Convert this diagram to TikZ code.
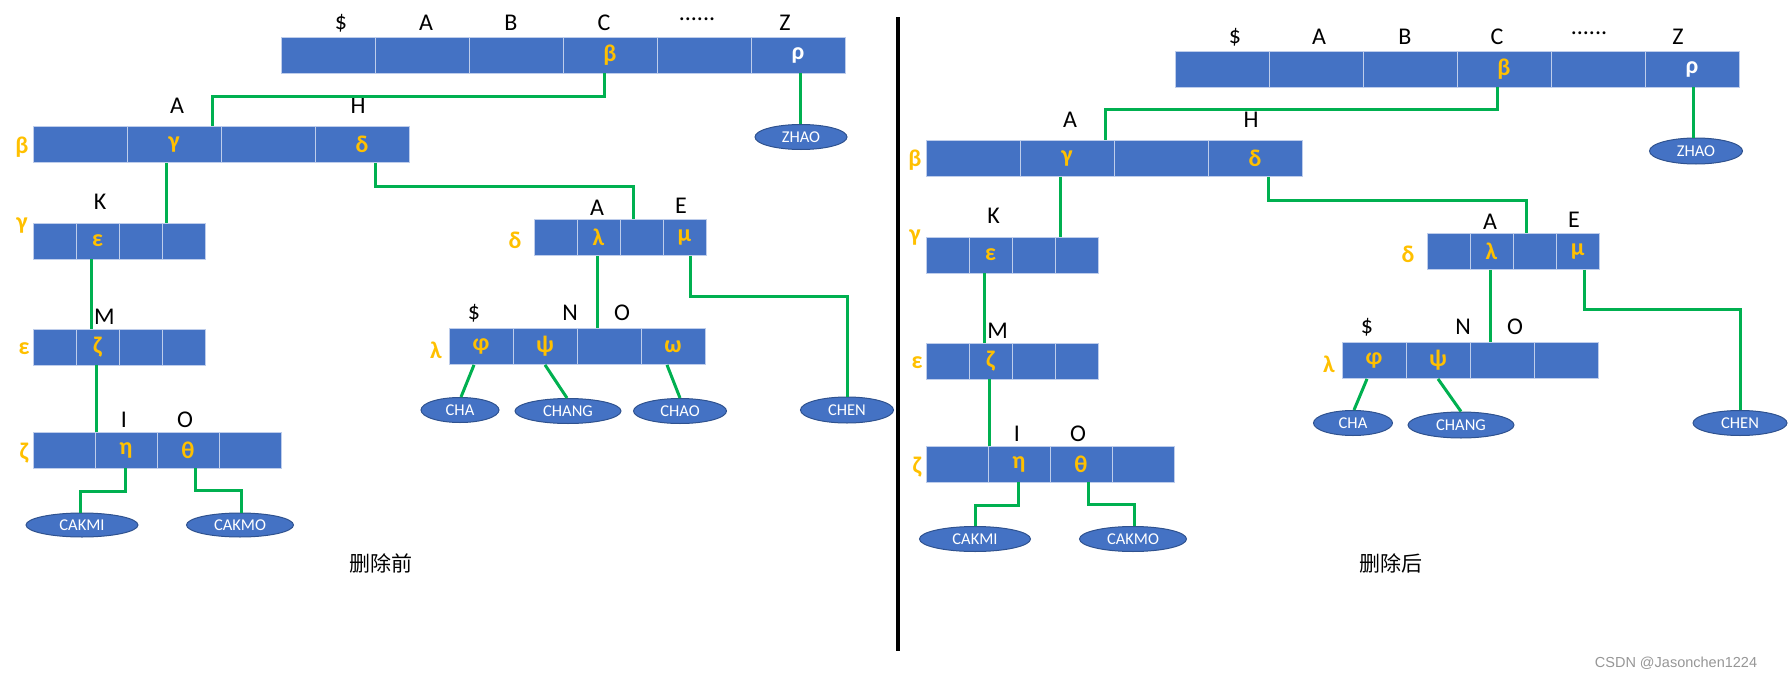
\documentclass[tikz,border=0pt]{standalone}
\usepackage{fontspec}
\setmainfont{Carlito}
\newfontfamily\cjk{Noto Sans CJK SC}
\newfontfamily\wmfont{Liberation Sans}
\usetikzlibrary{shapes.geometric}

\definecolor{barblue}{RGB}{68,114,196}
\definecolor{barline}{RGB}{190,205,235}
\definecolor{greekgold}{RGB}{255,192,0}
\definecolor{linkgreen}{RGB}{0,176,80}
\definecolor{ovalline}{RGB}{47,82,143}
\definecolor{markgray}{RGB}{150,150,150}

\tikzset{every picture/.style={line width=0.75pt}}
\tikzset{
	cellbox/.style={draw=barline, fill=barblue, line width=0.8pt, minimum height=36pt, inner sep=0pt,
		text=greekgold, font=\bfseries\fontsize{24}{28}\selectfont},
	cellwide/.style={cellbox, minimum width=94pt},
	cellmid/.style={cellbox, minimum width=62pt},
	cellnarrow/.style={cellbox, minimum width=43pt},
	keylbl/.style={font=\fontsize{24}{28}\selectfont},
	rowlbl/.style={text=greekgold, font=\bfseries\fontsize{24}{28}\selectfont},
	leaf/.style={ellipse, draw=ovalline, fill=barblue, line width=1pt, inner sep=0pt,
		minimum height=25pt, text=white, font=\fontsize{16.5}{19}\selectfont},
	link/.style={draw=linkgreen, line width=3pt}}

\begin{document}
\begin{tikzpicture}[x=1pt,y=1pt,yscale=-1,xscale=1]
	%set diagram left start at 0, width 1792 and height 680
	\useasboundingbox (0,0) rectangle (1792,680);

	%%%%%%%%%%%%%%%% before deletion %%%%%%%%%%%%%%%%
	%Shape: Rectangle (root)
	\node[cellwide] (Lt1) at (328,55) {};
	\node[cellwide] (Lt2) at (422,55) {};
	\node[cellwide] (Lt3) at (516,55) {};
	\node[cellwide] (Lt4) at (610,55) {β};
	\node[cellwide] (Lt5) at (704,55) {};
	\node[cellwide, text=white] (Lt6) at (798,55) {ρ};
	% Text Node
	\node[keylbl] (Lk1) at (341,23) {\$};
	\node[keylbl] (Lk2) at (426,23) {A};
	\node[keylbl] (Lk3) at (511,23) {B};
	\node[keylbl] (Lk4) at (604,23) {C};
	\node[keylbl] (Lk5) at (697,19) {......};
	\node[keylbl] (Lk6) at (785,23) {Z};

	%Shape: Rectangle (beta)
	\node[cellwide] (Lb1) at (80,144.5) {};
	\node[cellwide] (Lb2) at (174,144.5) {γ};
	\node[cellwide] (Lb3) at (268,144.5) {};
	\node[cellwide] (Lb4) at (362,144.5) {δ};
	\node[rowlbl] (Lbr) at (22,147) {β};
	\node[keylbl] (Lbk1) at (177,106) {A};
	\node[keylbl] (Lbk2) at (358,106) {H};

	%Shape: Rectangle (gamma)
	\node[cellnarrow] (Lg1) at (54.5,241) {};
	\node[cellnarrow] (Lg2) at (97.5,241) {ε};
	\node[cellnarrow] (Lg3) at (140.5,241) {};
	\node[cellnarrow] (Lg4) at (183.5,241) {};
	\node[rowlbl] (Lgr) at (22,226) {γ};
	\node[keylbl] (Lgk) at (100,202) {K};

	%Shape: Rectangle (epsilon)
	\node[cellnarrow] (Le1) at (54.5,347) {};
	\node[cellnarrow] (Le2) at (97.5,347) {ζ};
	\node[cellnarrow] (Le3) at (140.5,347) {};
	\node[cellnarrow] (Le4) at (183.5,347) {};
	\node[rowlbl] (Ler) at (24,349) {ε};
	\node[keylbl] (Lek) at (104.5,317) {M};

	%Shape: Rectangle (zeta)
	\node[cellmid] (Lz1) at (64,450) {};
	\node[cellmid] (Lz2) at (126,450) {η};
	\node[cellmid] (Lz3) at (188,450) {θ};
	\node[cellmid] (Lz4) at (250,450) {};
	\node[rowlbl] (Lzr) at (24,453) {ζ};
	\node[keylbl] (Lzk1) at (124,420) {I};
	\node[keylbl] (Lzk2) at (185,420) {O};

	%Shape: Rectangle (delta)
	\node[cellnarrow] (Ld1) at (555.5,237.5) {};
	\node[cellnarrow] (Ld2) at (598.5,237.5) {λ};
	\node[cellnarrow] (Ld3) at (641.5,237.5) {};
	\node[cellnarrow] (Ld4) at (684.5,237.5) {μ};
	\node[rowlbl] (Ldr) at (515,240) {δ};
	\node[keylbl] (Ldk1) at (597,208) {A};
	\node[keylbl] (Ldk2) at (681,206) {E};

	%Shape: Rectangle (lambda)
	\node[cellmid, minimum width=64pt] (Ll1) at (481,346.5) {φ};
	\node[cellmid, minimum width=64pt] (Ll2) at (545,346.5) {ψ};
	\node[cellmid, minimum width=64pt] (Ll3) at (609,346.5) {};
	\node[cellmid, minimum width=64pt] (Ll4) at (673,346.5) {ω};
	\node[rowlbl] (Llr) at (436,350) {λ};
	\node[keylbl] (Llk1) at (474,313) {\$};
	\node[keylbl] (Llk2) at (570,313) {N};
	\node[keylbl] (Llk3) at (622,313) {O};

	%Shape: Ellipse
	\node[leaf, minimum width=92pt] (LZHAO) at (801,137) {ZHAO};
	\node[leaf, minimum width=112pt, minimum height=24pt] (LCAKMI) at (82,525) {CAKMI};
	\node[leaf, minimum width=107pt, minimum height=24pt] (LCAKMO) at (240,525) {CAKMO};
	\node[leaf, minimum width=78pt] (LCHA) at (460,410) {CHA};
	\node[leaf, minimum width=106pt] (LCHANG) at (568,411) {CHANG};
	\node[leaf, minimum width=93pt] (LCHAO) at (680,411) {CHAO};
	\node[leaf, minimum width=93pt, minimum height=26pt] (LCHEN) at (847,410) {CHEN};

	%Straight Lines
	\draw[link] ([xshift=-6pt]Lt4.south) -- ++(0,23) -| ([xshift=38pt]Lb2.north);
	\draw[link] ([xshift=2pt]Lt6.south) -- ([xshift=-1pt]LZHAO.north);
	\draw[link] ([xshift=-7.5pt]Lb2.south) -- ([xshift=-17pt]Lg4.north);
	\draw[link] ([xshift=13pt]Lb4.south) -- ++(0,24) -| ([xshift=-8.5pt]Ld3.north);
	\draw[link] ([xshift=-6.5pt]Lg2.south) -- ([xshift=-6.5pt]Le2.north);
	\draw[link] ([xshift=-1pt]Le2.south) -- ([xshift=-29.5pt]Lz2.north);
	\draw[link] ([xshift=-1pt]Lz2.south) -- ++(0,23) -| ([xshift=-2pt]LCAKMI.north);
	\draw[link] ([xshift=7pt]Lz3.south) -- ++(0,22) -| ([xshift=1pt]LCAKMO.north);
	\draw[link] ([xshift=-1.5pt]Ld2.south) -- ([xshift=-12pt]Ll3.north);
	\draw[link] ([xshift=5.5pt]Ld4.south) -- ++(0,41) -| (LCHEN.north);
	\draw[link] ([xshift=-7pt]Ll1.south) -- ([xshift=1pt]LCHA.north);
	\draw[link] (Ll2.south) -- ([xshift=-1pt]LCHANG.north);
	\draw[link] ([xshift=-6pt]Ll4.south) -- (LCHAO.north);

	% Text Node
	\node[font=\cjk\fontsize{21}{25}\selectfont] (Lcap) at (381,563) {删除前};

	%Straight Lines (divider)
	\coordinate (sepTop) at (898,17);
	\coordinate (sepBot) at (898,651);
	\draw[line width=4pt] (sepTop) -- (sepBot);

	%%%%%%%%%%%%%%%% after deletion %%%%%%%%%%%%%%%%
	%Shape: Rectangle (root)
	\node[cellwide] (Rt1) at (1222,69) {};
	\node[cellwide] (Rt2) at (1316,69) {};
	\node[cellwide] (Rt3) at (1410,69) {};
	\node[cellwide] (Rt4) at (1504,69) {β};
	\node[cellwide] (Rt5) at (1598,69) {};
	\node[cellwide, text=white] (Rt6) at (1692,69) {ρ};
	% Text Node
	\node[keylbl] (Rk1) at (1235,37) {\$};
	\node[keylbl] (Rk2) at (1319,37) {A};
	\node[keylbl] (Rk3) at (1405,37) {B};
	\node[keylbl] (Rk4) at (1497,37) {C};
	\node[keylbl] (Rk5) at (1589,33) {......};
	\node[keylbl] (Rk6) at (1678,37) {Z};

	%Shape: Rectangle (beta)
	\node[cellwide] (Rb1) at (973,158.5) {};
	\node[cellwide] (Rb2) at (1067,158.5) {γ};
	\node[cellwide] (Rb3) at (1161,158.5) {};
	\node[cellwide] (Rb4) at (1255,158.5) {δ};
	\node[rowlbl] (Rbr) at (915,160) {β};
	\node[keylbl] (Rbk1) at (1070,120) {A};
	\node[keylbl] (Rbk2) at (1251,120) {H};

	%Shape: Rectangle (gamma)
	\node[cellnarrow] (Rg1) at (947.5,255) {};
	\node[cellnarrow] (Rg2) at (990.5,255) {ε};
	\node[cellnarrow] (Rg3) at (1033.5,255) {};
	\node[cellnarrow] (Rg4) at (1076.5,255) {};
	\node[rowlbl] (Rgr) at (915,238) {γ};
	\node[keylbl] (Rgk) at (993.5,216) {K};

	%Shape: Rectangle (epsilon)
	\node[cellnarrow] (Re1) at (947.5,361) {};
	\node[cellnarrow] (Re2) at (990.5,361) {ζ};
	\node[cellnarrow] (Re3) at (1033.5,361) {};
	\node[cellnarrow] (Re4) at (1076.5,361) {};
	\node[rowlbl] (Rer) at (917,363) {ε};
	\node[keylbl] (Rek) at (997.5,331) {M};

	%Shape: Rectangle (zeta)
	\node[cellmid] (Rz1) at (957,464) {};
	\node[cellmid] (Rz2) at (1019,464) {η};
	\node[cellmid] (Rz3) at (1081,464) {θ};
	\node[cellmid] (Rz4) at (1143,464) {};
	\node[rowlbl] (Rzr) at (917,467) {ζ};
	\node[keylbl] (Rzk1) at (1017,434) {I};
	\node[keylbl] (Rzk2) at (1078,434) {O};

	%Shape: Rectangle (delta)
	\node[cellnarrow] (Rd1) at (1448.5,251.5) {};
	\node[cellnarrow] (Rd2) at (1491.5,251.5) {λ};
	\node[cellnarrow] (Rd3) at (1534.5,251.5) {};
	\node[cellnarrow] (Rd4) at (1577.5,251.5) {μ};
	\node[rowlbl] (Rdr) at (1408,254) {δ};
	\node[keylbl] (Rdk1) at (1490,222) {A};
	\node[keylbl] (Rdk2) at (1574,220) {E};

	%Shape: Rectangle (lambda)
	\node[cellmid, minimum width=64pt] (Rl1) at (1374,360.5) {φ};
	\node[cellmid, minimum width=64pt] (Rl2) at (1438,360.5) {ψ};
	\node[cellmid, minimum width=64pt] (Rl3) at (1502,360.5) {};
	\node[cellmid, minimum width=64pt] (Rl4) at (1566,360.5) {};
	\node[rowlbl] (Rlr) at (1329,364) {λ};
	\node[keylbl] (Rlk1) at (1367,327) {\$};
	\node[keylbl] (Rlk2) at (1463,327) {N};
	\node[keylbl] (Rlk3) at (1515,327) {O};

	%Shape: Ellipse
	\node[leaf, minimum width=93pt, minimum height=26pt] (RZHAO) at (1696,151) {ZHAO};
	\node[leaf, minimum width=111pt] (RCAKMI) at (975,539) {CAKMI};
	\node[leaf, minimum width=107pt] (RCAKMO) at (1133,539) {CAKMO};
	\node[leaf, minimum width=79pt] (RCHA) at (1353,423) {CHA};
	\node[leaf, minimum width=106pt, minimum height=26pt] (RCHANG) at (1461,425) {CHANG};
	\node[leaf, minimum width=94pt] (RCHEN) at (1740,423) {CHEN};

	%Straight Lines
	\draw[link] ([xshift=-7pt]Rt4.south) -- ++(0,22) -| ([xshift=38pt]Rb2.north);
	\draw[link] ([xshift=1pt]Rt6.south) -- ([xshift=-3pt]RZHAO.north);
	\draw[link] ([xshift=-7pt]Rb2.south) -- ([xshift=-16.5pt]Rg4.north);
	\draw[link] ([xshift=13pt]Rb4.south) -- ++(0,24) -| ([xshift=-8.5pt]Rd3.north);
	\draw[link] ([xshift=-6.5pt]Rg2.south) -- ([xshift=-6.5pt]Re2.north);
	\draw[link] ([xshift=-1pt]Re2.south) -- ([xshift=-29.5pt]Rz2.north);
	\draw[link] ([xshift=-1pt]Rz2.south) -- ++(0,23) -| (RCAKMI.north);
	\draw[link] ([xshift=7pt]Rz3.south) -- ++(0,22) -| ([xshift=1pt]RCAKMO.north);
	\draw[link] ([xshift=-1.5pt]Rd2.south) -- ([xshift=-12pt]Rl3.north);
	\draw[link] ([xshift=6.5pt]Rd4.south) -- ++(0,40) -| (RCHEN.north);
	\draw[link] ([xshift=-7pt]Rl1.south) -- ([xshift=1pt]RCHA.north);
	\draw[link] (Rl2.south) -- (RCHANG.north);

	% Text Node
	\node[font=\cjk\fontsize{21}{25}\selectfont] (Rcap) at (1391,563) {删除后};
	\node[text=markgray, font=\wmfont\fontsize{14.5}{17}\selectfont] (mark) at (1676,663) {CSDN @Jasonchen1224};

\end{tikzpicture}
\end{document}
